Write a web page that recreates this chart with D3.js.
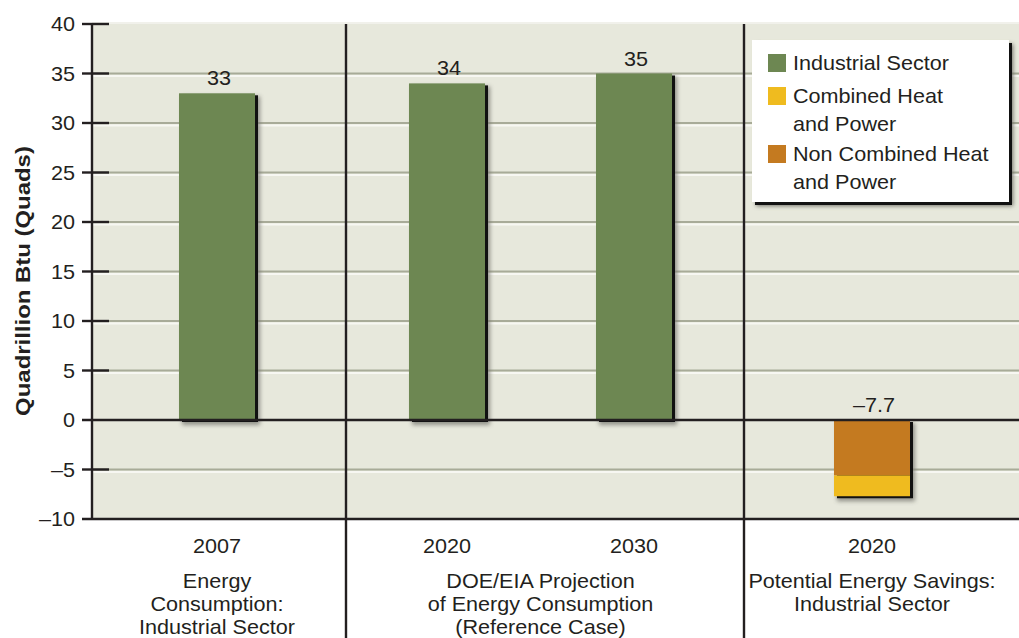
<!DOCTYPE html>
<html><head><meta charset="utf-8">
<script src="https://cdn.jsdelivr.net/npm/d3@7"></script>
<style>
html,body{margin:0;padding:0;background:#fff;}
text{font-family:"Liberation Sans",Arial,sans-serif;fill:#231f20;}
</style></head>
<body><svg id="c" width="1019" height="638"></svg>
<script>
// ---- data ----
const groups = ["g1","g2","g3"];
const groupLabels = [["Energy","Consumption:","Industrial Sector"],["DOE/EIA Projection","of Energy Consumption","(Reference Case)"],["Potential Energy Savings:","Industrial Sector"]];
const barGroup = ["g1","g2","g2","g3"];
const barYears = ["2007","2020","2030","2020 "];
const industrial = [33, 34, 35, 0];
const chp = [0, 0, 0, -2.1];
const nonChp = [0, 0, 0, -5.6];
const valueLabels = ["33","34","35","\u20137.7"];
const yTicks = [-10,-5,0,5,10,15,20,25,30,35,40];
const yTickLabels = ["\u201310","\u20135","0","5","10","15","20","25","30","35","40"];
const legendNames = [["Industrial Sector"],["Combined Heat","and Power"],["Non Combined Heat","and Power"]];
const colors = {ind:"#6d8752", chp:"#efbb1f", non:"#c47a20"};

// ---- layout ----
const svg = d3.select("#c");
const L = 92, R = 1019, T = 22, B = 519;
const groupRanges = {g1:[92,342], g2:[346,735], g3:[744,1000]};
const dividers = [346, 744];
const y = d3.scaleLinear().domain([-10,40]).range([B, 24]);
const bw = 76;
const FS = 20, SX = 1.08;
const xScales = {};
groups.forEach(g => {
  const keys = barYears.filter((k,i)=>barGroup[i]===g);
  xScales[g] = d3.scalePoint().domain(keys).range(groupRanges[g]).padding(keys.length>1?0.54:0.5);
});
const xc = i => xScales[barGroup[i]](barYears[i]);

function txt(parent, x, yy, s, anchor, size){
  return parent.append("text")
    .attr("transform",`translate(${x},${yy}) scale(${SX},1)`)
    .attr("text-anchor",anchor||"middle").attr("font-size",size||FS).text(s);
}

// background
svg.append("rect").attr("x",L).attr("y",T).attr("width",R-L).attr("height",B-T).attr("fill","#e7e8dc");
svg.append("rect").attr("x",L).attr("y",T).attr("width",R-L).attr("height",2).attr("fill","#f1f1eb");

// gridlines
yTicks.filter(v=>v!==0 && v!==-10 && v!==40).forEach(v=>{
  svg.append("line").attr("x1",L).attr("x2",R).attr("y1",y(v)).attr("y2",y(v)).attr("stroke","#a8ab98").attr("stroke-width",2.2);
  svg.append("line").attr("x1",L).attr("x2",R).attr("y1",y(v)+2.5).attr("y2",y(v)+2.5).attr("stroke","#f7f7f2").attr("stroke-width",1.8);
});

// defs
const defs = svg.append("defs");
const f = defs.append("filter").attr("id","blur").attr("x","-20%").attr("y","-20%").attr("width","140%").attr("height","140%");
f.append("feGaussianBlur").attr("stdDeviation",2.2);

// bars
function barShadow(x0, y0, y1){
  svg.append("rect").attr("x",x0+3).attr("y",y0+3).attr("width",bw+2).attr("height",y1-y0+2).attr("fill","#7c7c74").attr("filter","url(#blur)").attr("opacity",0.8);
  svg.append("rect").attr("x",x0+3).attr("y",y0+2).attr("width",bw).attr("height",y1-y0).attr("fill","#111");
}
industrial.forEach((v,i)=>{
  if(!v) return;
  const x0 = xc(i)-bw/2;
  barShadow(x0, y(v), y(0));
  svg.append("rect").attr("x",x0).attr("y",y(v)).attr("width",bw).attr("height",y(0)-y(v)).attr("fill",colors.ind);
});
nonChp.forEach((v,i)=>{
  if(!v) return;
  const x0 = xc(i)-bw/2;
  const total = v + chp[i];
  barShadow(x0, y(0), y(total));
  svg.append("rect").attr("x",x0).attr("y",y(0)).attr("width",bw).attr("height",y(v)-y(0)).attr("fill",colors.non);
  svg.append("rect").attr("x",x0).attr("y",y(v)).attr("width",bw).attr("height",y(total)-y(v)).attr("fill",colors.chp);
});

// dividers
dividers.forEach(dx=>{
  svg.append("line").attr("x1",dx).attr("x2",dx).attr("y1",24).attr("y2",638).attr("stroke","#231f20").attr("stroke-width",2.4);
});

// axis
svg.append("line").attr("x1",L).attr("x2",L).attr("y1",24).attr("y2",B).attr("stroke","#231f20").attr("stroke-width",2.4);
yTicks.forEach((v,i)=>{
  const full = (v===0 || v===-10);
  svg.append("line").attr("x1",82).attr("x2",full?R:109).attr("y1",y(v)).attr("y2",y(v)).attr("stroke","#231f20").attr("stroke-width",2.4);
  txt(svg, 75, y(v)+7, yTickLabels[i], "end");
});

// y title
svg.append("text").attr("transform","translate(30,281) rotate(-90) scale(1.14,1)").attr("text-anchor","middle").attr("font-size",21).attr("font-weight","bold").text("Quadrillion Btu (Quads)");

// value labels
valueLabels.forEach((t,i)=>{
  const v = industrial[i] || 0;
  txt(svg, xc(i)+2, y(v)-8, t);
});

// year labels
barYears.forEach((t,i)=>{
  txt(svg, xc(i), 553, t.trim());
});
// group labels
groups.forEach((g,gi)=>{
  const cx = (groupRanges[g][0]+groupRanges[g][1])/2;
  groupLabels[gi].forEach((ln,li)=>{
    txt(svg, cx, 588+li*23, ln);
  });
});

// legend
const lg = svg.append("g");
lg.append("rect").attr("x",756).attr("y",44).attr("width",257).attr("height",162).attr("fill","#6f6f68").attr("filter","url(#blur)");
lg.append("rect").attr("x",755).attr("y",43).attr("width",257).attr("height",162).attr("fill","#111");
lg.append("rect").attr("x",752).attr("y",40).attr("width",257).attr("height",162).attr("fill","#fff");
const legendColors = [colors.ind, colors.chp, colors.non];
const rowY = [54, 87, 145];
legendNames.forEach((lines,i)=>{
  lg.append("rect").attr("x",768).attr("y",rowY[i]).attr("width",18).attr("height",18).attr("fill",legendColors[i]);
  lines.forEach((ln,li)=>{
    txt(lg, 793, rowY[i]+16+li*28, ln, "start");
  });
});
</script></body></html>
